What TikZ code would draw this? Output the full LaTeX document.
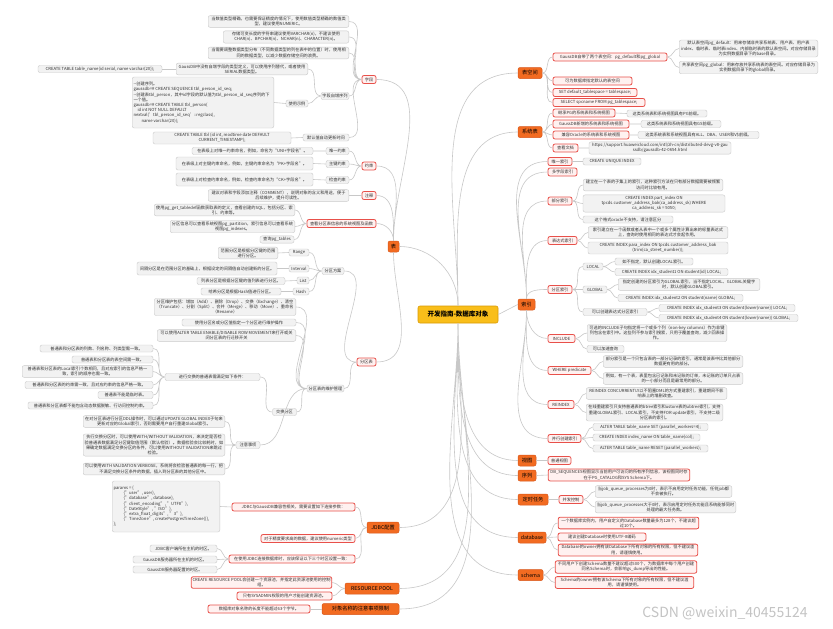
\documentclass[tikz,border=0pt]{standalone}
\usepackage{fontspec}
\setmainfont{Noto Sans CJK SC}
\XeTeXlinebreaklocale "zh"
\XeTeXlinebreakskip = 0pt plus 0.2pt
\definecolor{rootfill}{HTML}{F9BE1A}
\definecolor{rootline}{HTML}{D99A05}
\definecolor{mainfill}{HTML}{F26B21}
\definecolor{mainline}{HTML}{D8561A}
\definecolor{redline}{HTML}{E8504A}
\definecolor{redfill}{HTML}{FFF1F0}
\definecolor{greyline}{HTML}{C9C9C9}
\definecolor{greyfill}{HTML}{F2F2F2}
\definecolor{linkgray}{HTML}{C8C8C8}
\definecolor{leaftext}{HTML}{333333}
\definecolor{wmgray}{HTML}{C4C4C4}
\newcommand{\leaffont}{\fontsize{4.2}{5.2}\selectfont}
\newcommand{\topicfont}{\fontsize{5.2}{6}\selectfont}
\newcommand{\rootfont}{\fontsize{6.5}{7.5}\selectfont\bfseries}
\begin{document}
\begin{tikzpicture}[x=1pt, y=-1pt,
  rootbox/.style={draw=rootline, fill=rootfill, line width=0.6pt, rounded corners=2pt, font=\rootfont, minimum height=17pt, inner sep=1pt},
  mainbox/.style={draw=mainline, fill=mainfill, line width=0.5pt, rounded corners=2pt, font=\topicfont, minimum height=11pt, inner sep=1pt},
  redbox/.style={draw=redline, fill=redfill, line width=0.8pt, rounded corners=2pt, font=\leaffont, text=leaftext, minimum height=8pt, inner sep=1.3pt, align=flush center},
  greybox/.style={draw=greyline, fill=greyfill, line width=0.4pt, rounded corners=2pt, font=\leaffont, text=leaftext, minimum height=7pt, inner sep=1.3pt, align=flush center},
  link/.style={draw=linkgray, line width=0.6pt}
]
\fill[white] (0,0) rectangle (833,629);
\useasboundingbox (0,0) rectangle (833,629);

\node[rootbox, minimum width=80pt] (root) at (458,314.5) {开发指南-数据库对象};

\node[mainbox, minimum width=24pt] (tablespace) at (530,73) {表空间};
\node[mainbox, minimum width=24pt] (sys_table) at (530,132) {系统表};
\node[mainbox, minimum width=17pt] (index) at (526.5,304.5) {索引};
\node[mainbox, minimum width=18pt] (view) at (527,460.5) {视图};
\node[mainbox, minimum width=18pt] (sequence) at (527,475.5) {序列};
\node[mainbox, minimum width=30pt] (job) at (533,499.5) {定时任务};
\node[mainbox, minimum width=28pt] (database) at (532,537.5) {database};
\node[mainbox, minimum width=25pt] (schema) at (530.5,575) {schema};
\node[mainbox, minimum width=11pt] (table) at (393.5,246.5) {表};
\node[mainbox, minimum width=32pt] (jdbc) at (383,527.5) {JDBC配置};
\node[mainbox, minimum width=54pt] (resource_pool) at (372,588.5) {RESOURCE POOL};
\node[mainbox, minimum width=77pt] (obj_name) at (360.5,609) {对象名称的注意事项限制};

\node[redbox, minimum width=114pt] (ts_two) at (610,57) {GaussDB自带了两个表空间：pg\_default和pg\_global};
\node[greybox, text width=136pt] (ts_default) at (748.5,48.5) {默认表空间pg\_default：用来存储非共享系统表、用户表、用户表index、临时表、临时表index、内部临时表的默认表空间。对应存储目录为实例数据目录下的base目录。};
\node[greybox, text width=136pt] (ts_global) at (748.5,67.5) {共享表空间pg\_global：用来存放共享系统表的表空间。对应存储目录为实例数据目录下的global目录。};
\node[redbox, minimum width=79pt] (ts_quota) at (592.5,81) {可为数据库指定默认的表空间};
\node[redbox, minimum width=84pt] (ts_set) at (595,92.5) {SET default\_tablespace = tablespace;};
\node[redbox, minimum width=92pt] (ts_select) at (599,102.5) {SELECT spcname FROM pg\_tablespace;};

\node[redbox, minimum width=62pt] (st_pg) at (584,113) {继承PG的系统表和系统视图};
\node[greybox, minimum width=80pt] (st_pg_note) at (667,113.5) {这类系统表和系统视图具有PG前缀。};
\node[redbox, minimum width=76pt] (st_gs) at (591,124) {GaussDB新增的系统表和系统视图};
\node[greybox, minimum width=80pt] (st_gs_note) at (681,124) {这类系统表和系统视图具有GS前缀。};
\node[redbox, minimum width=76pt] (st_ora) at (591,135) {兼容Oracle的系统表和系统视图};
\node[greybox, minimum width=121pt] (st_ora_note) at (698.5,135) {这类系统表和系统视图具有ALL、DBA、USER和V\$前缀。};
\node[redbox, minimum width=25pt] (st_doc) at (565.5,148) {查看文档};
\node[greybox, minimum width=142pt] (st_url) at (660,148) {https://support.huaweicloud.com/intl/zh-cn/distributed-devg-v8-gau\\ssdb/gaussdb-42-0654.html};

\node[redbox, minimum width=24pt] (idx_unique) at (560,161.5) {唯一索引};
\node[greybox, minimum width=58pt] (idx_unique_sql) at (612,161.5) {CREATE UNIQUE INDEX};
\node[redbox, minimum width=29pt] (idx_multi) at (562.5,172) {多字段索引};
\node[redbox, minimum width=24pt] (idx_part) at (560,201) {部分索引};
\node[greybox, text width=137pt] (idx_part_note) at (653,185) {建立在一个表的子集上的索引，这种索引方法在只有部分数据需要被频繁访问时比较有用。};
\node[greybox, minimum width=142pt] (idx_part_sql) at (654,203.5) {CREATE INDEX part\_index ON\\tpcds.customer\_address\_bak(ca\_address\_sk) WHERE\\ca\_address\_sk = 5050;};
\node[greybox, minimum width=90pt] (idx_part_tip) at (628,219.5) {这个格式oracle不支持，请注意区分};
\node[redbox, minimum width=29pt] (idx_expr) at (562.5,240.5) {表达式索引};
\node[greybox, text width=137pt] (idx_expr_note) at (658,232.5) {索引建立在一个函数或者从表中一个或多个属性计算出来的标量表达式上，查询时使用相同的表达式才会起作用。};
\node[greybox, minimum width=140pt] (idx_expr_sql) at (658,248) {CREATE INDEX para\_index ON tpcds.customer\_address\_bak\\(trim(ca\_street\_number));};
\node[redbox, minimum width=24pt] (idx_partition) at (560,289.5) {分区索引};
\node[greybox, minimum width=20pt] (idx_local) at (593,266.5) {LOCAL};
\node[greybox, minimum width=78pt] (idx_local_note) at (654,261.5) {如不指定，默认创建LOCAL索引。};
\node[greybox, minimum width=113pt] (idx_local_sql) at (671.5,272) {CREATE INDEX idx\_student1 ON student(id) LOCAL;};
\node[greybox, minimum width=24pt] (idx_global) at (595,289.5) {GLOBAL};
\node[greybox, text width=139pt] (idx_global_note) at (689,284.5) {指定创建的分区索引为GLOBAL索引，当不指定LOCAL、GLOBAL关键字时，默认创建GLOBAL索引。};
\node[greybox, minimum width=125pt] (idx_global_sql) at (680.5,298) {CREATE INDEX idx\_student2 ON student(name) GLOBAL;};
\node[greybox, minimum width=64pt] (idx_func) at (615,312) {可以创建表达式分区索引};
\node[greybox, minimum width=136pt] (idx_func_local) at (727,308) {CREATE INDEX idx\_student3 ON student(lower(name)) LOCAL;};
\node[greybox, minimum width=139pt] (idx_func_global) at (728.5,318) {CREATE INDEX idx\_student4 ON student(lower(name)) GLOBAL;};
\node[redbox, minimum width=27pt] (idx_include) at (561.5,338.5) {INCLUDE};
\node[greybox, text width=137pt] (idx_include_note) at (657,333) {可选的INCLUDE子句指定将一个或多个列（non-key columns）作为非键列包含在索引中。这些列不参与索引搜索，只用于覆盖查询，减少回表操作。};
\node[greybox, minimum width=37pt] (idx_include_use) at (605.5,349) {可以加速查询};
\node[redbox, minimum width=43pt] (idx_where) at (569.5,370.5) {WHERE predicate};
\node[greybox, text width=137pt] (idx_where_note) at (673,361.5) {部分索引是一个只包含表的一部分记录的索引，通常是该表中比其他部分数据更有用的部分。};
\node[greybox, text width=137pt] (idx_where_eg) at (673,378.5) {例如，有一个表，表里包含已记账和未记账的订单，未记账的订单只占表的一小部分而且是最常用的部分。};
\node[redbox, minimum width=26pt] (idx_reindex) at (561,404.5) {REINDEX};
\node[greybox, text width=138pt] (idx_reindex_note) at (656.5,393.5) {REINDEX CONCURRENTLY以不阻塞DML的方式重建索引，重建期间不影响表上的增删改查。};
\node[greybox, text width=134pt] (idx_reindex_limit) at (654.5,412.5) {在线重建索引只支持普通表的btree索引和ustore表的ubtree索引，支持重建GLOBAL索引、LOCAL索引，不支持FOR update索引，不支持二级分区表的索引。};
\node[redbox, minimum width=33pt] (idx_parallel) at (564.5,438.5) {并行创建索引};
\node[greybox, minimum width=115pt] (idx_parallel_set) at (650.5,427) {ALTER TABLE table\_name SET (parallel\_workers=4);};
\node[greybox, minimum width=107pt] (idx_parallel_create) at (646.5,437.5) {CREATE INDEX index\_name ON table\_name(col);};
\node[greybox, minimum width=115pt] (idx_parallel_reset) at (650.5,448.5) {ALTER TABLE table\_name RESET (parallel\_workers);};

\node[redbox, minimum width=23pt] (view_normal) at (559.5,460.5) {普通视图};
\node[redbox, text width=139pt] (seq_view) at (619,475) {DB\_SEQUENCES视图显示当前用户可访问的所有序列信息，该视图同时存在于PG\_CATALOG和SYS Schema下。};
\node[redbox, minimum width=24pt] (job_ctrl) at (571,499.5) {并发控制};
\node[greybox, text width=134pt] (job_zero) at (663.5,491.5) {当job\_queue\_processes为0时，表示不启用定时任务功能，任何job都不会被执行。};
\node[greybox, text width=138pt] (job_more) at (665.5,507) {当job\_queue\_processes大于0时，表示启用定时任务功能且系统能够同时处理的最大任务数。};
\node[redbox, text width=138pt] (db_limit) at (628.5,523) {一个数据库实例内，用户自定义的Database数量最多为128个，不建议超过10个。};
\node[redbox, minimum width=88pt] (db_utf8) at (602,537) {建议创建Database时使用UTF-8编码};
\node[redbox, text width=137pt] (db_owner) at (628,550) {Database的owner拥有该Database下所有对象的所有权限，但不建议滥用，请谨慎使用。};
\node[redbox, text width=139pt] (sc_limit) at (626,567) {不同用户下创建Schema数量不建议超过500个，为数据库中每个用户创建同名Schema时，会影响gs\_dump导出的性能。};
\node[redbox, text width=136pt] (sc_owner) at (624.5,582.5) {Schema的owner拥有该Schema下所有对象的所有权限，但不建议滥用，请谨慎使用。};

\node[redbox, minimum width=14pt] (tb_column) at (369,79.5) {字段};
\node[redbox, minimum width=14pt] (tb_constraint) at (369,166) {约束};
\node[redbox, minimum width=14pt] (tb_comment) at (369,195.5) {注释};
\node[redbox, minimum width=69pt] (tb_query) at (341.5,223.5) {查看分区表信息的系统视图及函数};
\node[redbox, minimum width=19pt] (tb_partition) at (366.5,362) {分区表};

\node[greybox, text width=138pt] (col_numeric) at (278.5,21.5) {当数值类型精确，也需要保证精度的情况下，使用数值类型精确的数值类型，建议使用NUMERIC。};
\node[greybox, text width=123pt] (col_varchar) at (286,37) {存储可变长度的字符串建议使用VARCHAR(n)，不建议使用CHAR(n)、BPCHAR(n)、NCHAR(n)、CHARACTER(n)。};
\node[greybox, text width=138pt] (col_order) at (278.5,53) {当需要调整数据类型分布（不同数据类型的列在表中的位置）时，使用相同的数据类型，以减少数据存储空间的浪费。};
\node[greybox, minimum width=28pt] (col_serial) at (335,96) {字段自增序列};
\node[greybox, text width=129pt] (col_serial_note) at (242,69) {GaussDB中没有自增字段的类型定义，可以使用序列替代，或者使用SERIAL数据类型。};
\node[greybox, minimum width=124pt] (col_serial_sql) at (100,69) {CREATE TABLE table\_name(id serial, name varchar(20));};
\node[greybox, minimum width=22pt] (col_example) at (297,103.5) {使用示例};
\node[greybox, text width=139pt, align=flush left, minimum height=51pt] (col_example_sql) at (203,102.5) {-{}-创建序列。\\gaussdb=\# CREATE SEQUENCE tbl\_person\_id\_seq;\\-{}-创建表tbl\_person，其中id字段的默认值为tbl\_person\_id\_seq序列的下一个值。\\gaussdb=\# CREATE TABLE tbl\_person(\\\hspace*{4pt}id int NOT NULL DEFAULT\\nextval('tbl\_person\_id\_seq'::regclass),\\\hspace*{8pt}name varchar(20));};
\node[greybox, minimum width=46pt] (col_time) at (326,137.5) {默认值自动更新时间};
\node[greybox, minimum width=138pt] (col_time_sql) at (222,138) {CREATE TABLE tbl (id int, modtime date DEFAULT\\CURRENT\_TIMESTAMP);};

\node[greybox, minimum width=23pt] (con_unique) at (337.5,151) {唯一约束};
\node[greybox, minimum width=121pt] (con_unique_note) at (252.5,151) {在表级上对唯一约束命名，例如，命名为“UNI+字段名”。};
\node[greybox, minimum width=23pt] (con_pkey) at (337.5,164) {主键约束};
\node[greybox, minimum width=137pt, minimum height=13pt] (con_pkey_note) at (244.5,163.5) {在表级上对主键约束命名，例如，主键约束命名为“PK+字段名”。};
\node[greybox, minimum width=23pt] (con_check) at (337.5,180) {检查约束};
\node[greybox, minimum width=137pt, minimum height=13pt] (con_check_note) at (244.5,179.5) {在表级上对检查约束命名，例如，检查约束命名为“CK+字段名”。};
\node[greybox, text width=138pt] (cmt_note) at (278.5,195.5) {建议对表和字段添加注释（COMMENT），说明对象的含义和用途，便于后续维护，提升可读性。};

\node[greybox, text width=138pt] (qry_tabledef) at (224.5,210) {使用pg\_get\_tabledef函数获取表的定义，查看创建的SQL，包括分区、索引、约束等。};
\node[greybox, text width=122pt] (qry_partition) at (232.5,226.5) {分区信息可以查看系统视图pg\_partition，索引信息可以查看系统视图pg\_indexes。};
\node[greybox, minimum width=34pt] (qry_tables) at (277,239.5) {查询pg\_tables};

\node[greybox, minimum width=22pt] (pt_scheme) at (333,271) {分区方案};
\node[greybox, minimum width=20pt] (pt_range) at (299,252.5) {Range};
\node[greybox, text width=57pt] (pt_range_note) at (248,253) {范围分区是根据分区键的范围进行分区。};
\node[greybox, minimum width=20pt] (pt_interval) at (299,268.5) {Interval};
\node[greybox, minimum width=140pt, minimum height=13pt] (pt_interval_note) at (207,268.5) {间隔分区是在范围分区的基础上，根据设定的间隔值自动创建新的分区。};
\node[greybox, minimum width=12pt] (pt_list) at (303,280.5) {List};
\node[greybox, minimum width=88pt] (pt_list_note) at (241,281) {列表分区是根据分区键的值列表进行分区。};
\node[greybox, minimum width=16pt] (pt_hash) at (301,291.5) {Hash};
\node[greybox, minimum width=80pt] (pt_hash_note) at (241,291.5) {哈希分区是根据Hash值进行分区。};
\node[greybox, minimum width=37pt] (pt_manage) at (325.5,388.5) {分区表的维护管理};
\node[greybox, text width=139pt] (pt_ops) at (225,307) {分区维护包括：增加（Add）、删除（Drop）、交换（Exchange）、清空（Truncate）、分割（Split）、合并（Merge）、移动（Move）、重命名（Rename）};
\node[greybox, minimum width=114pt] (pt_spec) at (239,322.5) {使用分区名或分区值指定一个分区进行维护操作};
\node[greybox, text width=136pt] (pt_move) at (226.5,335.5) {可以使用ALTER TABLE ENABLE/DISABLE ROW MOVEMENT来打开或关闭分区表的行迁移开关};
\node[greybox, minimum width=24pt] (pt_exchange) at (284.5,412) {交换分区};
\node[greybox, minimum width=95pt] (pt_exchange_rule) at (212.5,377) {进行交换的普通表需满足如下条件：};
\node[greybox, minimum width=113pt] (ex_column) at (96.5,348.5) {普通表和分区表的列数、列名称、列类型需一致。};
\node[greybox, minimum width=81pt] (ex_space) at (112.5,359.5) {普通表和分区表的表空间需一致。};
\node[greybox, text width=128pt] (ex_index) at (87.5,371.5) {普通表和分区表的Local索引个数相同，且对应索引的信息严格一致，索引的顺序也需一致。};
\node[greybox, minimum width=128pt] (ex_constraint) at (89,385) {普通表和分区表的约束需一致，且对应约束的信息严格一致。};
\node[greybox, minimum width=55pt] (ex_temp) at (125.5,395) {普通表不能是临时表。};
\node[greybox, minimum width=125pt] (ex_mask) at (90.5,405.5) {普通表和分区表都不能包含动态数据脱敏、行访问控制约束。};
\node[greybox, minimum width=24pt] (pt_notice) at (248,445) {注意事项};
\node[greybox, text width=139pt] (nt_global) at (154,421.5) {在对分区表进行分区DDL操作时，可以通过UPDATE GLOBAL INDEX子句来更新对应的Global索引，否则需要用户自行重建Global索引。};
\node[greybox, text width=139pt] (nt_validation) at (154,445) {执行交换分区时，可以使用WITH/WITHOUT VALIDATION，来决定是否检验普通表数据满足分区键取值范围（默认检验）。数据检验会比较耗时，如果确定数据满足交换分区的条件，可以使用WITHOUT VALIDATION来跳过检验。};
\node[greybox, text width=139pt] (nt_verbose) at (154,469) {可以使用WITH VALIDATION VERBOSE，系统将会检验普通表的每一行，把不满足交换分区条件的数据，插入到分区表的其他分区中。};

\node[redbox, minimum width=123pt] (jdbc_param) at (293.5,507) {JDBC与GaussDB兼容性相关，需要设置如下连接参数：};
\node[greybox, text width=105pt, align=flush left, minimum height=51pt] (jdbc_param_code) at (166,506.5) {params = \{\\\hspace*{10pt}\{"user", user\},\\\hspace*{10pt}\{"database", database\},\\\hspace*{10pt}\{"client\_encoding", "UTF8"\},\\\hspace*{10pt}\{"DateStyle", "ISO"\},\\\hspace*{10pt}\{"extra\_float\_digits", "3"\},\\\hspace*{10pt}\{"TimeZone", createPostgresTimeZone()\},\\\};};
\node[redbox, minimum width=94pt] (jdbc_numeric) at (308,538.5) {对于精度要求高的数据，建议使用numeric类型};
\node[redbox, minimum width=126pt] (jdbc_tz) at (292,559) {在使用JDBC连接数据库时，应该保证以下三个时区设置一致：};
\node[greybox, minimum width=67pt] (tz_client) at (183.5,548.5) {JDBC客户端所在主机的时区。};
\node[greybox, minimum width=84pt] (tz_host) at (175,559.5) {GaussDB服务器所在主机的时区。};
\node[greybox, minimum width=84pt] (tz_conf) at (175,569.5) {GaussDB服务器配置的时区。};

\node[redbox, text width=138pt] (rp_create) at (261.5,582.5) {CREATE RESOURCE POOL会创建一个资源池，并指定此资源池使用的控制组。};
\node[redbox, minimum width=95pt] (rp_admin) at (284.5,596) {只有SYSADMIN权限的用户才能创建资源池。};
\node[redbox, minimum width=102pt] (on_length) at (259,609) {数据库对象名称的长度不能超过63个字节。};

\node[text=wmgray, font=\fontsize{14}{14}\selectfont] (watermark) at (725,613) {CSDN @weixin\_40455124};

\draw[link] (root.north) to[out=90,in=180] (tablespace.west) (root.north) to[out=90,in=180] (sys_table.west);
\draw[link] (root.east) -- (index.west);
\draw[link] (root.south) to[out=-90,in=180] (view.west) (root.south) to[out=-90,in=180] (sequence.west) (root.south) to[out=-90,in=180] (job.west) (root.south) to[out=-90,in=180] (database.west) (root.south) to[out=-90,in=180] (schema.west);
\draw[link] (root.north) to[out=90,in=0] (table.east);
\draw[link] (root.south) to[out=-90,in=0] (jdbc.east) (root.south) to[out=-90,in=0] (resource_pool.east) (root.south) to[out=-90,in=0] (obj_name.east);

\draw[link] (tablespace.east) to[out=0,in=180] (ts_two.west) (tablespace.east) to[out=0,in=180] (ts_quota.west) (tablespace.east) to[out=0,in=180] (ts_set.west) (tablespace.east) to[out=0,in=180] (ts_select.west);
\draw[link] (ts_two.east) to[out=0,in=180] (ts_default.west) (ts_two.east) to[out=0,in=180] (ts_global.west);
\draw[link] (sys_table.east) to[out=0,in=180] (st_pg.west) (sys_table.east) to[out=0,in=180] (st_gs.west) (sys_table.east) to[out=0,in=180] (st_ora.west) (sys_table.east) to[out=0,in=180] (st_doc.west);
\draw[link] (st_pg.east) -- (st_pg_note.west) (st_gs.east) -- (st_gs_note.west) (st_ora.east) -- (st_ora_note.west) (st_doc.east) -- (st_url.west);

\draw[link] (index.north) to[out=90,in=180] (idx_unique.west) (index.north) to[out=90,in=180] (idx_multi.west) (index.north) to[out=90,in=180] (idx_part.west) (index.north) to[out=90,in=180] (idx_expr.west) (index.north) to[out=90,in=180] (idx_partition.west);
\draw[link] (index.south) to[out=-90,in=180] (idx_include.west) (index.south) to[out=-90,in=180] (idx_where.west) (index.south) to[out=-90,in=180] (idx_reindex.west) (index.south) to[out=-90,in=180] (idx_parallel.west);
\draw[link] (idx_unique.east) -- (idx_unique_sql.west);
\draw[link] (idx_part.east) to[out=0,in=180] (idx_part_note.west) (idx_part.east) to[out=0,in=180] (idx_part_sql.west) (idx_part.east) to[out=0,in=180] (idx_part_tip.west);
\draw[link] (idx_expr.east) to[out=0,in=180] (idx_expr_note.west) (idx_expr.east) to[out=0,in=180] (idx_expr_sql.west);
\draw[link] (idx_partition.east) to[out=0,in=180] (idx_local.west) (idx_partition.east) to[out=0,in=180] (idx_global.west) (idx_partition.east) to[out=0,in=180] (idx_func.west);
\draw[link] (idx_local.east) to[out=0,in=180] (idx_local_note.west) (idx_local.east) to[out=0,in=180] (idx_local_sql.west);
\draw[link] (idx_global.east) to[out=0,in=180] (idx_global_note.west) (idx_global.east) to[out=0,in=180] (idx_global_sql.west);
\draw[link] (idx_func.east) to[out=0,in=180] (idx_func_local.west) (idx_func.east) to[out=0,in=180] (idx_func_global.west);
\draw[link] (idx_include.east) to[out=0,in=180] (idx_include_note.west) (idx_include.east) to[out=0,in=180] (idx_include_use.west);
\draw[link] (idx_where.east) to[out=0,in=180] (idx_where_note.west) (idx_where.east) to[out=0,in=180] (idx_where_eg.west);
\draw[link] (idx_reindex.east) to[out=0,in=180] (idx_reindex_note.west) (idx_reindex.east) to[out=0,in=180] (idx_reindex_limit.west);
\draw[link] (idx_parallel.east) to[out=0,in=180] (idx_parallel_set.west) (idx_parallel.east) to[out=0,in=180] (idx_parallel_create.west) (idx_parallel.east) to[out=0,in=180] (idx_parallel_reset.west);

\draw[link] (view.east) -- (view_normal.west);
\draw[link] (sequence.east) -- (seq_view.west);
\draw[link] (job.east) -- (job_ctrl.west);
\draw[link] (job_ctrl.east) to[out=0,in=180] (job_zero.west) (job_ctrl.east) to[out=0,in=180] (job_more.west);
\draw[link] (database.east) to[out=0,in=180] (db_limit.west) (database.east) to[out=0,in=180] (db_utf8.west) (database.east) to[out=0,in=180] (db_owner.west);
\draw[link] (schema.east) to[out=0,in=180] (sc_limit.west) (schema.east) to[out=0,in=180] (sc_owner.west);

\draw[link] (table.north) to[out=90,in=0] (tb_column.east) (table.north) to[out=90,in=0] (tb_constraint.east) (table.north) to[out=90,in=0] (tb_comment.east) (table.north) to[out=90,in=0] (tb_query.east);
\draw[link] (table.south) to[out=-90,in=0] (tb_partition.east);
\draw[link] (tb_column.west) to[out=180,in=0] (col_numeric.east) (tb_column.west) to[out=180,in=0] (col_varchar.east) (tb_column.west) to[out=180,in=0] (col_order.east) (tb_column.west) to[out=180,in=0] (col_serial.east) (tb_column.west) to[out=180,in=0] (col_time.east);
\draw[link] (col_serial.west) to[out=180,in=0] (col_serial_note.east) (col_serial.west) to[out=180,in=0] (col_example.east);
\draw[link] (col_serial_note.west) -- (col_serial_sql.east);
\draw[link] (col_example.west) -- (col_example_sql.east);
\draw[link] (col_time.west) -- (col_time_sql.east);
\draw[link] (tb_constraint.west) to[out=180,in=0] (con_unique.east) (tb_constraint.west) to[out=180,in=0] (con_pkey.east) (tb_constraint.west) to[out=180,in=0] (con_check.east);
\draw[link] (con_unique.west) -- (con_unique_note.east) (con_pkey.west) -- (con_pkey_note.east) (con_check.west) -- (con_check_note.east);
\draw[link] (tb_comment.west) -- (cmt_note.east);
\draw[link] (tb_query.west) to[out=180,in=0] (qry_tabledef.east) (tb_query.west) to[out=180,in=0] (qry_partition.east) (tb_query.west) to[out=180,in=0] (qry_tables.east);
\draw[link] (tb_partition.west) to[out=180,in=0] (pt_scheme.east) (tb_partition.west) to[out=180,in=0] (pt_manage.east);
\draw[link] (pt_scheme.west) to[out=180,in=0] (pt_range.east) (pt_scheme.west) to[out=180,in=0] (pt_interval.east) (pt_scheme.west) to[out=180,in=0] (pt_list.east) (pt_scheme.west) to[out=180,in=0] (pt_hash.east);
\draw[link] (pt_range.west) -- (pt_range_note.east) (pt_interval.west) -- (pt_interval_note.east) (pt_list.west) -- (pt_list_note.east) (pt_hash.west) -- (pt_hash_note.east);
\draw[link] (pt_manage.west) to[out=180,in=0] (pt_ops.east) (pt_manage.west) to[out=180,in=0] (pt_spec.east) (pt_manage.west) to[out=180,in=0] (pt_move.east) (pt_manage.west) to[out=180,in=0] (pt_exchange.east) (pt_manage.west) to[out=180,in=0] (pt_notice.east);
\draw[link] (pt_exchange.west) to[out=180,in=0] (pt_exchange_rule.east);
\draw[link] (pt_exchange_rule.west) to[out=180,in=0] (ex_column.east) (pt_exchange_rule.west) to[out=180,in=0] (ex_space.east) (pt_exchange_rule.west) to[out=180,in=0] (ex_index.east) (pt_exchange_rule.west) to[out=180,in=0] (ex_constraint.east) (pt_exchange_rule.west) to[out=180,in=0] (ex_temp.east) (pt_exchange_rule.west) to[out=180,in=0] (ex_mask.east);
\draw[link] (pt_notice.west) to[out=180,in=0] (nt_global.east) (pt_notice.west) to[out=180,in=0] (nt_validation.east) (pt_notice.west) to[out=180,in=0] (nt_verbose.east);

\draw[link] (jdbc.west) to[out=180,in=0] (jdbc_param.east) (jdbc.west) to[out=180,in=0] (jdbc_numeric.east) (jdbc.west) to[out=180,in=0] (jdbc_tz.east);
\draw[link] (jdbc_param.west) -- (jdbc_param_code.east);
\draw[link] (jdbc_tz.west) to[out=180,in=0] (tz_client.east) (jdbc_tz.west) to[out=180,in=0] (tz_host.east) (jdbc_tz.west) to[out=180,in=0] (tz_conf.east);
\draw[link] (resource_pool.west) to[out=180,in=0] (rp_create.east) (resource_pool.west) to[out=180,in=0] (rp_admin.east);
\draw[link] (obj_name.west) -- (on_length.east);
\end{tikzpicture}
\end{document}
